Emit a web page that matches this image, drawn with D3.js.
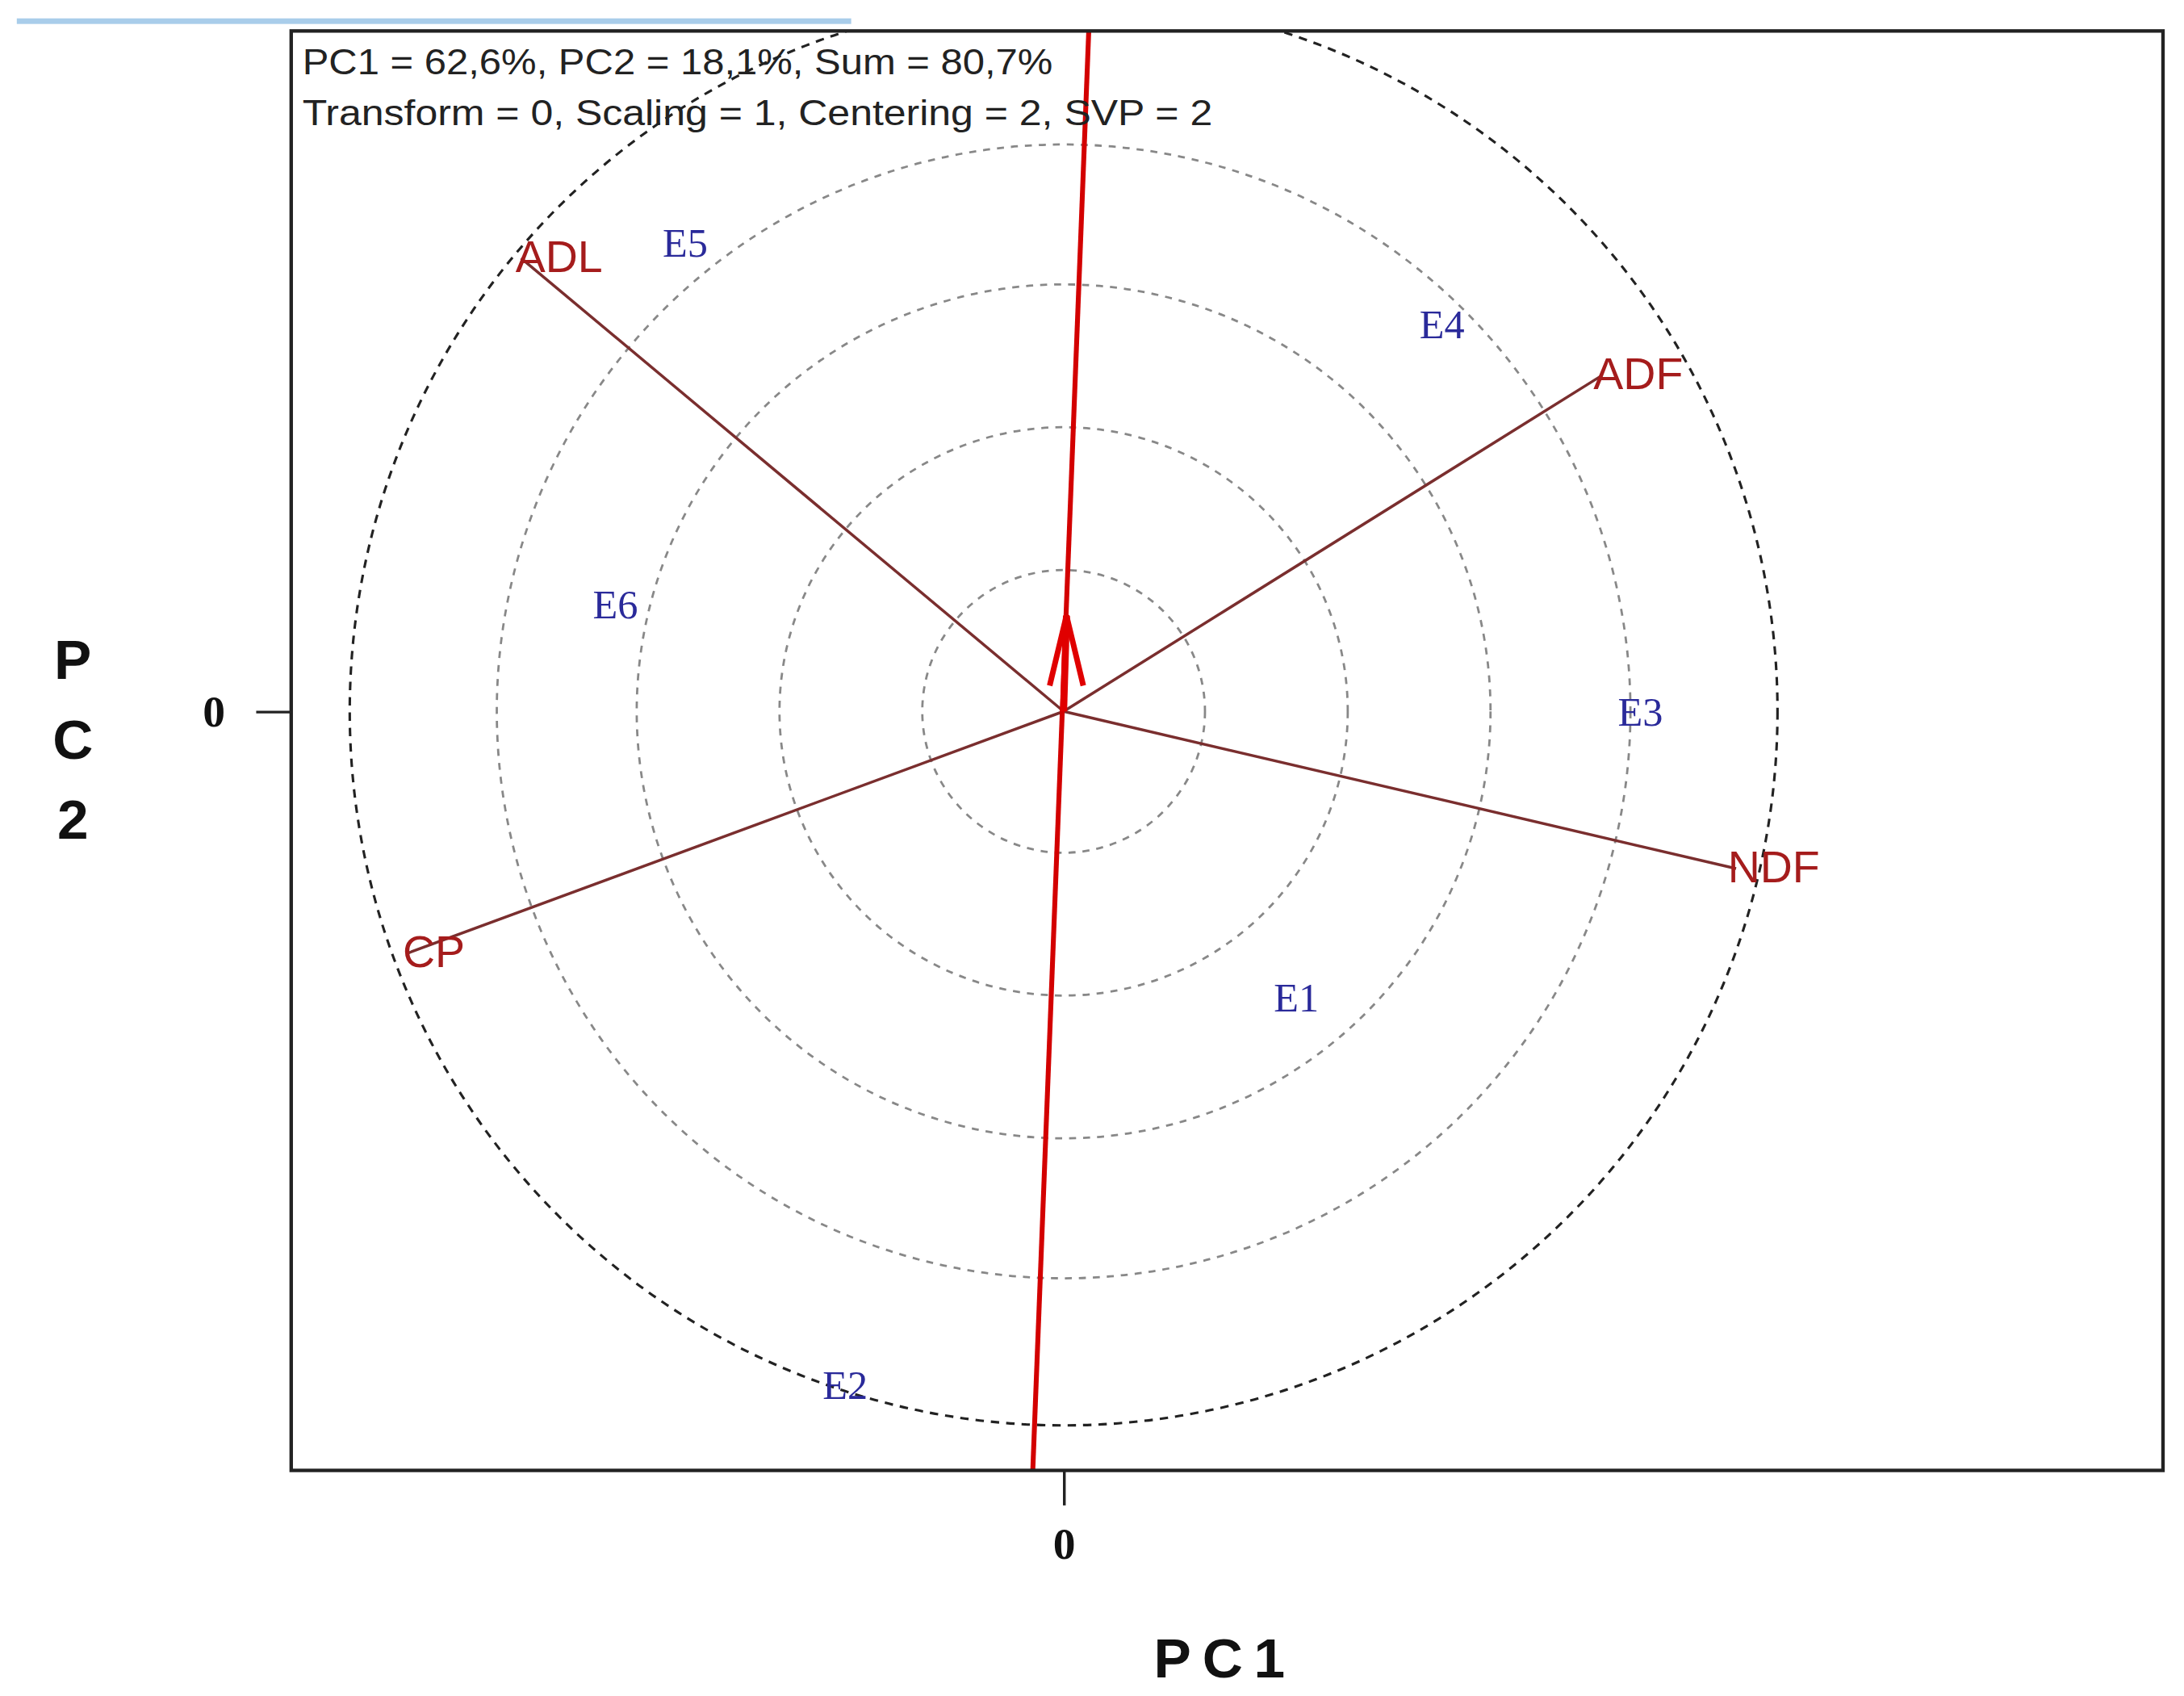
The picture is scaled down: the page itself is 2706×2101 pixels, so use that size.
<!DOCTYPE html>
<html><head><meta charset="utf-8">
<script src="https://cdnjs.cloudflare.com/ajax/libs/d3/7.8.5/d3.min.js"></script>
<style>body{margin:0;background:#fff}</style>
</head><body>
<script>
// trait vectors (PC1, PC2)
const traits = ['ADL', 'ADF', 'NDF', 'CP'];
const traitX = [-3.80, 3.77, 4.71, -4.59];
const traitY = [3.17, 2.35, -1.10, -1.69];
// genotypes
const genos = ['E1', 'E2', 'E3', 'E4', 'E5', 'E6'];
const genoX = [1.63, -1.53, 4.04, 2.65, -2.65, -3.14];
const genoY = [-2.0, -4.71, 0.0, 2.71, 3.28, 0.75];
const rings = [0.99, 1.99, 2.99, 3.97];
const outerRing = 5.0;
const avePoint = [0.02, 0.67];
const aveLine = [[-0.216, -5.31], [0.176, 4.76]];

const W = 1560, H = 1211;
const svg = d3.select('body').append('svg')
    .attr('width', 2706).attr('height', 2101)
    .attr('viewBox', `0 0 ${W} ${H}`);

const box = {l: 208, r: 1545, t: 22, b: 1050};
const x = d3.scaleLinear().domain([-5.41, 7.70]).range([box.l, box.r]);
const y = d3.scaleLinear().domain([-5.31, 4.76]).range([box.b, box.t]);
const k = x(1) - x(0);

svg.append('rect').attr('x', 12).attr('y', 13).attr('width', 596).attr('height', 4).attr('fill', '#a9cdea');

svg.append('clipPath').attr('id', 'c').append('rect')
    .attr('x', box.l).attr('y', box.t).attr('width', box.r - box.l).attr('height', box.b - box.t);
const g = svg.append('g').attr('clip-path', 'url(#c)');

g.selectAll('.ring').data(rings).enter().append('circle')
    .attr('cx', x(0)).attr('cy', y(0)).attr('r', d => d * k)
    .attr('fill', 'none').attr('stroke', '#888').attr('stroke-width', 1.6).attr('stroke-dasharray', '5,5');
g.append('circle').attr('cx', x(0)).attr('cy', y(0)).attr('r', outerRing * k)
    .attr('fill', 'none').attr('stroke', '#222').attr('stroke-width', 1.8).attr('stroke-dasharray', '6,5');

g.selectAll('.vec').data(traits).enter().append('line')
    .attr('x1', x(0)).attr('y1', y(0))
    .attr('x2', (d, i) => x(traitX[i])).attr('y2', (d, i) => y(traitY[i]))
    .attr('stroke', '#7a2e2e').attr('stroke-width', 2);

g.append('line').attr('x1', x(aveLine[0][0])).attr('y1', y(aveLine[0][1]))
    .attr('x2', x(aveLine[1][0])).attr('y2', y(aveLine[1][1]))
    .attr('stroke', '#d30000').attr('stroke-width', 3.5);
// average environment arrow
const ax = x(avePoint[0]), ay = y(avePoint[1]);
g.append('path').attr('d', `M${ax - 12},${ay + 50} L${ax},${ay} L${ax + 12},${ay + 50}`)
    .attr('fill', 'none').attr('stroke', '#e00000').attr('stroke-width', 4);
g.append('line').attr('x1', x(0)).attr('y1', y(0)).attr('x2', ax).attr('y2', ay)
    .attr('stroke', '#e00000').attr('stroke-width', 5);

g.selectAll('.tl').data(traits).enter().append('text')
    .attr('x', (d, i) => x(traitX[i])).attr('y', (d, i) => y(traitY[i]))
    .attr('dx', (d, i) => traitX[i] < 0 ? -4 : -6).attr('dy', 10)
    .attr('font-family', 'Liberation Sans, Arial').attr('font-size', 32)
    .attr('fill', '#a51c1c').text(d => d);

g.selectAll('.gl').data(genos).enter().append('text')
    .attr('x', (d, i) => x(genoX[i])).attr('y', (d, i) => y(genoY[i]))
    .attr('text-anchor', 'middle').attr('dy', 10)
    .attr('font-family', 'Liberation Serif, Times New Roman').attr('font-size', 29)
    .attr('fill', '#2a2a9a').text(d => d);

svg.append('rect').attr('x', box.l).attr('y', box.t).attr('width', box.r - box.l).attr('height', box.b - box.t)
    .attr('fill', 'none').attr('stroke', '#222').attr('stroke-width', 2.5);

svg.append('text').attr('x', 216).attr('y', 53).attr('font-family', 'Liberation Sans, Arial').attr('font-size', 26)
    .attr('textLength', 536).attr('lengthAdjust', 'spacingAndGlyphs')
    .attr('fill', '#222').text('PC1 = 62,6%, PC2 = 18,1%, Sum = 80,7%');
svg.append('text').attr('x', 216).attr('y', 89).attr('font-family', 'Liberation Sans, Arial').attr('font-size', 26)
    .attr('textLength', 650).attr('lengthAdjust', 'spacingAndGlyphs')
    .attr('fill', '#222').text('Transform = 0, Scaling = 1, Centering = 2, SVP = 2');

// axes
const xAxis = d3.axisBottom(x).tickValues([0]).tickSize(25).tickFormat(d3.format('d'));
const xa = svg.append('g').attr('transform', `translate(0,${box.b})`).call(xAxis);
const yAxis = d3.axisLeft(y).tickValues([0]).tickSize(25).tickFormat(d3.format('d'));
const ya = svg.append('g').attr('transform', `translate(${box.l},0)`).call(yAxis);
[xa, ya].forEach(a => {
    a.select('.domain').remove();
    a.selectAll('line').attr('stroke', '#222').attr('stroke-width', 2);
    a.selectAll('text').attr('font-family', 'Liberation Serif, Times New Roman')
        .attr('font-size', 32).attr('font-weight', 'bold').attr('fill', '#111');
});
xa.selectAll('text').attr('dy', '1.1em');
ya.selectAll('text').attr('dx', '-0.6em');

svg.append('text').attr('x', 875).attr('y', 1198).attr('text-anchor', 'middle')
    .attr('font-family', 'Liberation Sans, Arial').attr('font-size', 40).attr('font-weight', 'bold')
    .attr('letter-spacing', 8).attr('fill', '#111').text('PC1');
['P', 'C', '2'].forEach((c, i) => {
    svg.append('text').attr('x', 52).attr('y', 485 + i * 57).attr('text-anchor', 'middle')
        .attr('font-family', 'Liberation Sans, Arial').attr('font-size', 40).attr('font-weight', 'bold')
        .attr('fill', '#111').text(c);
});
</script>
</body></html>
